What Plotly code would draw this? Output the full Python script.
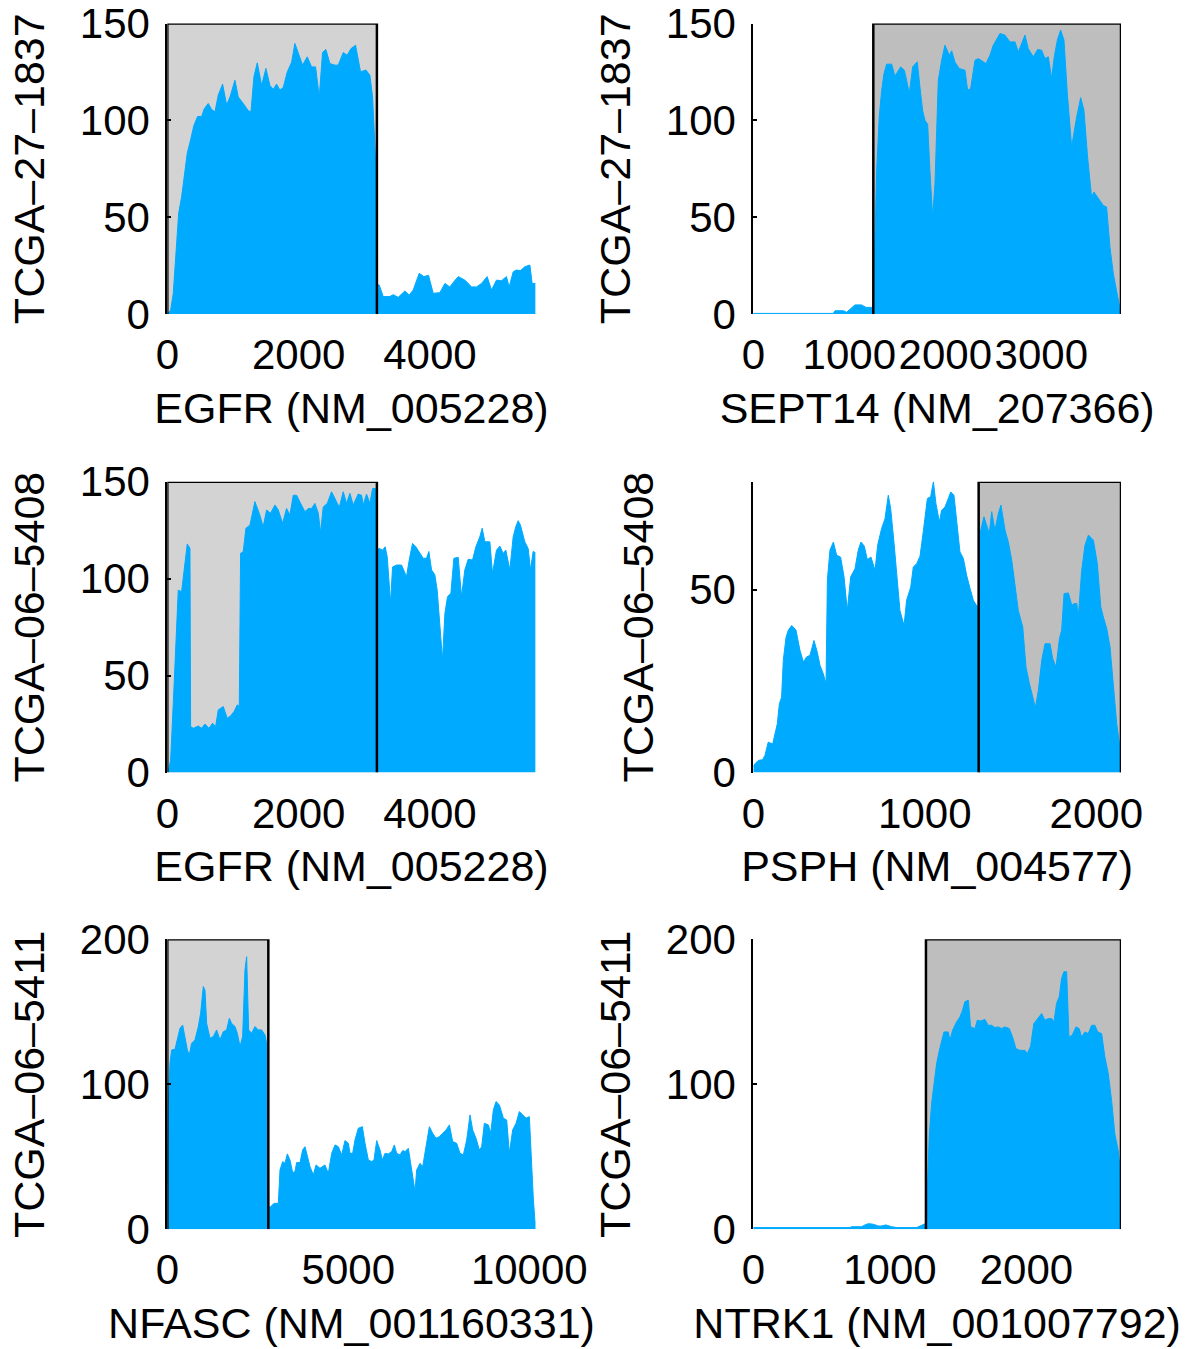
import plotly.graph_objects as go

# ---------------- data ----------------
# Panel 1: TCGA-27-1837, EGFR (NM_005228)
egfr1_x = [0, 51, 91, 132, 173, 218, 259, 304, 355, 406, 462, 523, 563, 624, 675, 726, 776, 842, 903, 954,
           1030, 1081, 1157, 1233, 1274, 1319, 1370, 1436, 1502, 1563, 1614, 1664, 1715, 1766, 1827, 1893,
           1943, 1994, 2060, 2131, 2197, 2258, 2314, 2364, 2415, 2476, 2552, 2603, 2679, 2740, 2796, 2867,
           2943, 3024, 3085, 3126, 3166, 3185, 3200, 3227, 3288, 3389, 3440, 3516, 3618, 3684, 3745, 3836,
           3907, 3978, 4049, 4151, 4227, 4303, 4364, 4430, 4531, 4633, 4709, 4785, 4871, 4937, 5013, 5089,
           5165, 5206, 5267, 5318, 5378, 5444, 5521, 5556, 5607]
egfr1_y = [0, 2, 10.7, 33, 52, 60.5, 72.6, 83, 90, 97.5, 102, 102, 106, 108.7, 105.6, 104.4, 113, 118.7, 108, 112,
           120.7, 112, 108.7, 105, 104.4, 122.5, 129.7, 118, 126.8, 118, 116, 118.7, 115.6, 117, 125, 130,
           139.7, 134.5, 128.5, 132.8, 127.6, 127.6, 112, 135, 136.6, 129.3, 128.5, 128.5, 135, 133.6, 137, 138.8,
           125, 126, 123.3, 112, 86.3, 70, 15, 15, 9, 9, 10, 8.6, 11.9, 9.8, 12.4, 21,
           19.3, 20, 10.7, 11, 15.8, 14, 16.7, 19.3, 17.5, 14, 14, 15.8, 19.3, 12.4, 17.5, 17.2,
           19.3, 14, 21.8, 22.7, 22.4, 24.4, 25.3, 15.8, 15.8]

# Panel 2: TCGA-27-1837, SEPT14 (NM_207366)
sept14_x = [0, 833, 851, 937, 972, 1007, 1059, 1128, 1174, 1233, 1250, 1257, 1267, 1285, 1312, 1337, 1361, 1389,
            1441, 1476, 1535, 1573, 1597, 1625, 1660, 1708, 1736, 1764, 1788, 1816, 1840, 1868, 1892, 1927,
            1962, 1996, 2042, 2066, 2101, 2146, 2205, 2232, 2264, 2309, 2344, 2423, 2465, 2500, 2569, 2621,
            2673, 2726, 2760, 2830, 2864, 2916, 2962, 3003, 3038, 3073, 3107, 3135, 3167, 3201, 3236, 3271,
            3316, 3368, 3410, 3444, 3482, 3524, 3548, 3594, 3646, 3680, 3715, 3750, 3785, 3830]
sept14_y = [0.3, 0.3, 1.7, 1.7, 0.9, 2.6, 4.7, 4.7, 3.4, 3.4, 3.4, 19, 36, 74, 102, 115.5, 124, 129,
            129, 122.8, 127.6, 125.9, 120.7, 113.8, 127.6, 130.2, 117, 105, 100, 98, 74, 50, 67, 120.7,
            131, 138.8, 133.6, 135.9, 130, 126.7, 125.9, 115.5, 116.4, 131, 131.9, 129.3, 133.6, 138.8, 144.8, 144,
            140.5, 140.5, 135.3, 144, 137, 132.8, 136.6, 136.2, 131.9, 132.8, 121.6, 132.8, 141.4, 146.6, 141.4, 113.8,
            86.2, 101.7, 111.7, 105.2, 81, 60.3, 63, 59.5, 56, 55.2, 34.5, 20.7, 12, 0]

# Panel 3: TCGA-06-5408, EGFR (NM_005228)
egfr2_x = [15, 51, 91, 132, 167, 218, 269, 304, 345, 355, 396, 472, 523, 573, 634, 690, 736, 776, 852, 913,
           964, 1015, 1066, 1096, 1116, 1157, 1197, 1258, 1334, 1400, 1461, 1512, 1573, 1639, 1690, 1756,
           1816, 1867, 1918, 1969, 2030, 2096, 2146, 2197, 2248, 2299, 2334, 2375, 2436, 2501, 2552, 2618,
           2679, 2730, 2781, 2831, 2907, 2958, 2984, 3034, 3085, 3126, 3161, 3190, 3200, 3227, 3278, 3318,
           3349, 3379, 3400, 3430, 3491, 3567, 3603, 3643, 3684, 3734, 3785, 3836, 3897, 3948, 3983, 4024,
           4074, 4110, 4150, 4191, 4227, 4267, 4318, 4364, 4430, 4480, 4531, 4582, 4648, 4699, 4759, 4795,
           4836, 4912, 4952, 5013, 5064, 5115, 5155, 5216, 5267, 5307, 5343, 5378, 5444, 5495, 5531, 5571, 5607]
egfr2_y = [0.5, 6.5, 35.7, 66.7, 94, 93.3, 108, 117.9, 115.6, 23.7, 22.8, 24, 22.8, 25, 22.8, 25.4, 23.7, 32.3, 34, 28,
           29.2, 31.4, 34.9, 34, 113, 114, 126, 127.6, 139.7, 133.7, 126.8, 135.4, 133.7, 138, 135.4, 128.5,
           136.2, 132.8, 143, 143, 138.8, 134.5, 136.2, 136.2, 138.8, 133.7, 123.7, 137, 138.8, 144.8, 141.4, 136.7,
           144.8, 138.8, 144, 138, 143.6, 143, 138, 143.6, 138.8, 146.5, 146.5, 146, 115, 115.6, 114.7, 116.4,
           111.3, 95, 87.3, 106, 107, 107, 104.5, 101, 109.6, 118.2, 116.4, 114, 110.5, 110.5, 114, 104.5,
           102, 94, 73.5, 58, 82, 90.7, 92.4, 110.5, 111, 90.7, 104.5, 110, 109.6, 116.4, 121.6, 126,
           119, 119, 102.7, 114.7, 116.8, 113, 114.7, 104.5, 121.6, 126.8, 129.9, 127.6, 119, 115.6, 104.5, 114, 113.4]

# Panel 4: TCGA-06-5408, PSPH (NM_004577)
psph_x = [0, 10, 29, 54, 68, 87, 113, 126, 140, 152, 165, 175, 191, 204, 224, 249, 272, 292, 311, 330, 354, 373,
          389, 408, 424, 432, 447, 467, 486, 509, 529, 548, 568, 593, 612, 628, 647, 665, 686, 710, 725, 748,
          768, 787, 801, 820, 836, 855, 879, 894, 918, 933, 953, 972, 991, 1015, 1034, 1050, 1065, 1085, 1098,
          1118, 1137, 1151, 1170, 1190, 1205, 1225, 1244, 1264, 1283, 1306, 1312, 1318, 1326, 1345, 1361, 1376,
          1390, 1409, 1429, 1444, 1468, 1487, 1507, 1526, 1545, 1571, 1590, 1610, 1629, 1645, 1662, 1682, 1701,
          1730, 1746, 1765, 1785, 1798, 1812, 1837, 1857, 1872, 1886, 1895, 1915, 1934, 1954, 1983, 2006, 2026,
          2041, 2061, 2080, 2100, 2119, 2138, 2144]
psph_y = [1.6, 2.4, 3.3, 3.5, 4.7, 8.3, 7.8, 10.6, 13.3, 18.8, 20.6, 30.7, 37, 38.9, 40.2, 38.9, 33.4, 30.2, 31.6, 32,
          36.1, 32.9, 29.3, 27, 24.3, 52.6, 60.8, 63, 59.4, 58.9, 53.5, 44.3, 53.5, 55.7, 60.8, 63, 61.9, 58.2, 58.9,
          55.3, 62.1, 66.7, 69.4, 75.8, 72.2, 63, 53.5, 44.3, 40.2, 47.1, 50.7, 56.2, 57.1, 59.1, 65.8, 74.9, 75.4,
          79.5, 73.5, 68.5, 71.7, 72.6, 74.9, 76.7, 75.8, 66.2, 60.3, 58.5, 53.9, 50.3, 47.1, 45.3, 45.3, 66, 66.2,
          69.9, 67.2, 65.3, 71.3, 66.2, 70.8, 73.1, 66.2, 63, 58, 51.6, 44.3, 39.8, 28.8, 24.3, 20.6, 17.7, 22.4,
          30.7, 35.2, 35.2, 31.1, 28.8, 36.6, 38.9, 48.9, 49.1, 45.7, 46.2, 46.2, 42.5, 55.3, 62.1, 64.9, 63.5, 57.1,
          45.3, 42.5, 39.3, 34.3, 22.4, 13.3, 6.9, 0]

# Panel 5: TCGA-06-5411, NFASC (NM_001160331)
nfasc_x = [0, 28, 74, 120, 212, 276, 350, 424, 488, 553, 608, 672, 764, 857, 921, 995, 1041, 1087, 1179, 1271,
           1363, 1455, 1547, 1639, 1713, 1778, 1870, 1934, 2008, 2081, 2146, 2192, 2247, 2330, 2422, 2514, 2606,
           2699, 2745, 2785, 2800, 2855, 2947, 3067, 3113, 3187, 3251, 3316, 3389, 3463, 3527, 3573, 3666, 3739,
           3804, 3868, 3942, 4034, 4108, 4218, 4356, 4448, 4541, 4633, 4725, 4817, 4909, 5001, 5047, 5121, 5185,
           5277, 5388, 5462, 5554, 5646, 5710, 5784, 5876, 5940, 6014, 6106, 6198, 6272, 6336, 6429, 6502, 6567,
           6659, 6723, 6797, 6843, 6889, 6981, 7055, 7147, 7239, 7331, 7423, 7515, 7607, 7700, 7792, 7884, 7994,
           8086, 8178, 8271, 8363, 8436, 8528, 8621, 8685, 8759, 8869, 8934, 9007, 9081, 9173, 9284, 9376, 9449,
           9541, 9634, 9726, 9818, 9910, 10002, 10067, 10113, 10159, 10177]
nfasc_y = [31.7, 86.9, 114.5, 123.7, 124.1, 130.6, 138.6, 140.9, 132.9, 123.7, 120.2, 128.3, 130.6, 139.8, 149, 167.4,
           165, 142, 131.7, 132.9, 137.5, 130.6, 136.3, 137.5, 145.5, 142, 139.8, 135.2, 126, 132.9, 178.9, 188,
           137.5, 135.2, 139.8, 137.5, 137.5, 134, 128.3, 128, 15.6, 15.6, 17.9, 17.9, 40.9, 46.7, 45.5, 52, 47.8,
           39.1, 39.8, 46, 46, 54.7, 57, 50.1, 43.2, 37.5, 44.4, 42.1, 44.4, 38.6, 52.4, 58.2, 57, 51.3, 61.2, 59.3,
           52.4, 52.4, 61.6, 69.7, 70.8, 59.3, 47.8, 46.7, 47.8, 61.2, 54.7, 47.8, 52.4, 52, 53.6, 58.2, 52.4, 51.3,
           54.3, 53.6, 55.9, 45.5, 34, 26, 40.9, 45.5, 43.2, 57, 70.8, 66.2, 62.8, 63.9, 66.2, 68.5, 72, 60.5, 59.3,
           52.4, 51.3, 61.6, 78.9, 68.5, 62.8, 54.7, 57, 73.1, 72, 66.2, 82.3, 88.1, 85.8, 76.6, 75.4, 52.4, 68.5,
           73.1, 81.2, 78.9, 76.6, 77.7, 40.9, 20.2, 5.3, 4.6]

# Panel 6: TCGA-06-5411, NTRK1 (NM_001007792)
ntrk1_x = [0, 708, 720, 793, 817, 842, 878, 915, 939, 971, 1013, 1049, 1196, 1232, 1249, 1262, 1274, 1288, 1305,
           1322, 1342, 1362, 1379, 1396, 1427, 1440, 1459, 1488, 1513, 1532, 1549, 1574, 1591, 1623, 1640, 1664,
           1696, 1720, 1745, 1769, 1793, 1818, 1842, 1874, 1898, 1923, 1952, 1989, 2006, 2030, 2054, 2079, 2111,
           2135, 2159, 2184, 2201, 2220, 2240, 2257, 2274, 2294, 2311, 2335, 2362, 2386, 2403, 2428, 2452, 2477,
           2501, 2521, 2550, 2574, 2599, 2623, 2647, 2672, 2691]
ntrk1_y = [1.2, 1.2, 1.8, 1.8, 3, 3.9, 3.5, 2.3, 2.3, 3, 1.8, 1.2, 1.2, 3, 3.9, 4, 26.5, 63.4, 86.5,
           100.4, 114.2, 123.4, 130.3, 136.1, 136.1, 130.3, 137.3, 143, 146.5, 151.1, 156.9, 158, 139.6, 138.4, 144.2,
           143.7, 144.7, 140.7, 140.7, 139.1, 139.6, 138.4, 139.6, 138.4, 132.7, 124.6, 123.4, 123.4, 121.1, 126.2,
           141.9, 145.3, 148.8, 144.2, 145.3, 145.3, 143, 155.7, 160.3, 173, 177.6, 177.6, 132.7, 133.8, 139.6,
           138.4, 132.7, 136.1, 135, 140.7, 140.7, 136.1, 135, 118.8, 107.3, 88.8, 65.7, 54.2, 36.9]

sample_labels = ["TCGA–27–1837", "TCGA–27–1837", "TCGA–06–5408", "TCGA–06–5408", "TCGA–06–5411", "TCGA–06–5411"]
gene_labels = ["EGFR (NM_005228)", "SEPT14 (NM_207366)", "EGFR (NM_005228)", "PSPH (NM_004577)",
               "NFASC (NM_001160331)", "NTRK1 (NM_001007792)"]
x_lengths = [5610, 3830, 5610, 2144, 10177, 2692]
y_maxima = [150, 150, 150, 79.5, 200, 200]
breakpoints = [3192, 1250, 3192, 1314, 2791, 1264]
shaded_side = ["left", "right", "left", "right", "left", "right"]
x_tickvals = [[0, 2000, 4000], [0, 1000, 2000, 3000], [0, 2000, 4000], [0, 1000, 2000],
              [0, 5000, 10000], [0, 1000, 2000]]
y_tickvals = [[0, 50, 100, 150], [0, 50, 100, 150], [0, 50, 100, 150], [0, 50],
              [0, 100, 200], [0, 100, 200]]
series_x = [egfr1_x, sept14_x, egfr2_x, psph_x, nfasc_x, ntrk1_x]
series_y = [egfr1_y, sept14_y, egfr2_y, psph_y, nfasc_y, ntrk1_y]

# ---------------- layout geometry ----------------
W, H = 1186, 1349
col_px = [(167.3, 535.7), (753.3, 1121.0)]
row_px = [(23.5, 314.0), (481.7, 772.5), (939.3, 1229.3)]

BLUE = "#00AAFF"
FONT = "Liberation Sans, Arial, Helvetica, sans-serif"
FS = 42
FS_TITLE = 43

fig = go.Figure()
layout = dict(width=W, height=H, margin=dict(l=0, r=0, t=0, b=0),
              paper_bgcolor="white", plot_bgcolor="white", showlegend=False,
              font=dict(family=FONT, size=FS, color="black"))
shapes = []

for i in range(6):
    r, c = divmod(i, 2)
    n = i + 1
    xa = "x" if n == 1 else f"x{n}"
    ya = "y" if n == 1 else f"y{n}"
    xkey = "xaxis" if n == 1 else f"xaxis{n}"
    ykey = "yaxis" if n == 1 else f"yaxis{n}"
    x0p, x1p = col_px[c]
    t, b = row_px[r]
    xmax, ymax, bp = x_lengths[i], y_maxima[i], breakpoints[i]

    fig.add_trace(go.Scatter(x=series_x[i], y=series_y[i], xaxis=xa, yaxis=ya, mode="lines",
                             fill="tozeroy", fillcolor=BLUE, line=dict(color=BLUE, width=1),
                             hoverinfo="skip"))

    layout[xkey] = dict(domain=[x0p / W, x1p / W], anchor=ya, range=[0, xmax], showgrid=False,
                        zeroline=False, showline=False, ticks="", tickvals=x_tickvals[i],
                        ticktext=[str(v) for v in x_tickvals[i]], ticklabelstandoff=12,
                        tickfont=dict(size=FS), automargin=False,
                        title=dict(text=gene_labels[i], standoff=15, font=dict(size=FS_TITLE)))
    layout[ykey] = dict(domain=[1 - b / H, 1 - t / H], anchor=xa, range=[0, ymax], showgrid=False,
                        zeroline=False, showline=True, linecolor="black", linewidth=2,
                        ticks="inside", ticklen=4, tickwidth=2, tickcolor="black",
                        tickvals=y_tickvals[i], ticklabelstandoff=7, tickfont=dict(size=FS),
                        automargin=False,
                        title=dict(text=sample_labels[i], standoff=22, font=dict(size=FS_TITLE)))

    if shaded_side[i] == "left":
        gx0, gx1, gfill = 0, bp, "#D3D3D3"
    else:
        gx0, gx1, gfill = bp, xmax, "#BEBEBE"
    shapes.append(dict(type="rect", xref=xa, yref=ya, x0=gx0, x1=gx1, y0=0, y1=ymax,
                       fillcolor=gfill, line=dict(width=0), layer="below"))
    shapes.append(dict(type="path", xref=xa, yref=ya,
                       path=f"M {gx0},0 L {gx0},{ymax} L {gx1},{ymax} L {gx1},0",
                       line=dict(color="black", width=2.5), layer="above"))

layout["shapes"] = shapes
fig.update_layout(**layout)
# remove the browser's default 8px body margin so the figure sits at the page origin
fig.write_html("out.html", config={"displayModeBar": False},
               post_script="document.body.style.margin='0';")
